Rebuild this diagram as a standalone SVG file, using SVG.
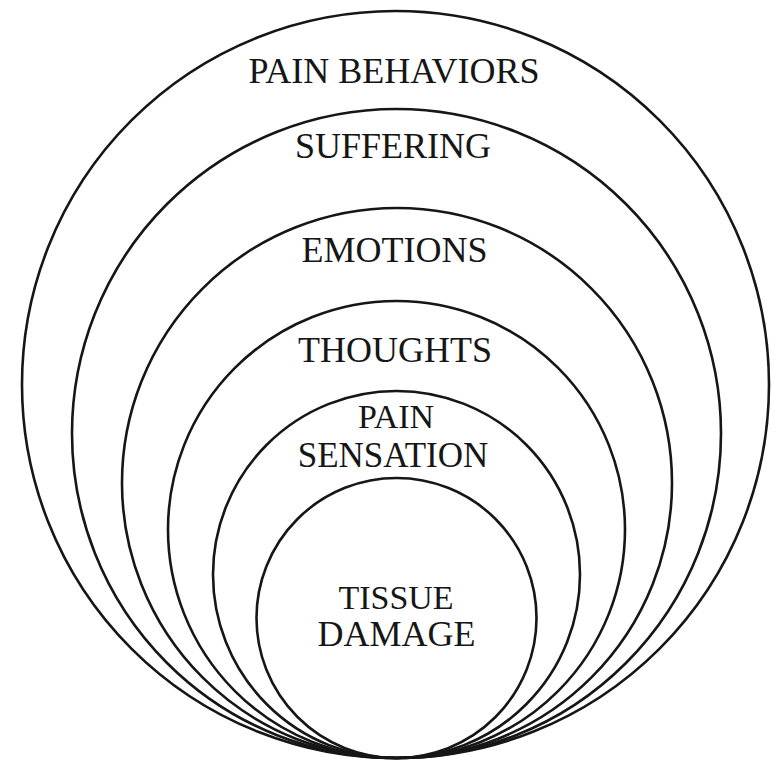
<svg xmlns="http://www.w3.org/2000/svg" width="779" height="764" viewBox="0 0 779 764">
<style>
.c{fill:none;stroke:#161616;stroke-width:2.6}
.t{font-family:"Liberation Serif","Times New Roman",serif;font-size:36px;fill:#161616;text-anchor:middle}
.s{font-size:34px}
.m{font-size:35px}
</style>
<rect width="779" height="764" fill="#ffffff"/>
<g id="pain-behaviors"><circle class="c" cx="395.5" cy="384.5" r="373.5"/><text class="t" x="394" y="83">PAIN BEHAVIORS</text></g>
<g id="suffering"><circle class="c" cx="396.5" cy="433.5" r="324.5"/><text class="t" x="393" y="158">SUFFERING</text></g>
<g id="emotions"><circle class="c" cx="397" cy="483" r="275"/><text class="t" x="394.5" y="262">EMOTIONS</text></g>
<g id="thoughts"><circle class="c" cx="396.5" cy="529.5" r="228.5"/><text class="t" x="395" y="362">THOUGHTS</text></g>
<g id="pain-sensation"><circle class="c" cx="396.5" cy="574.5" r="183.5"/><text class="t s" x="396" y="428">PAIN</text><text class="t m" x="393" y="467">SENSATION</text></g>
<g id="tissue-damage"><circle class="c" cx="396.5" cy="618" r="140"/><text class="t s" x="396" y="609">TISSUE</text><text class="t" x="396.5" y="646">DAMAGE</text></g>
<g id="connectors"></g>
</svg>
